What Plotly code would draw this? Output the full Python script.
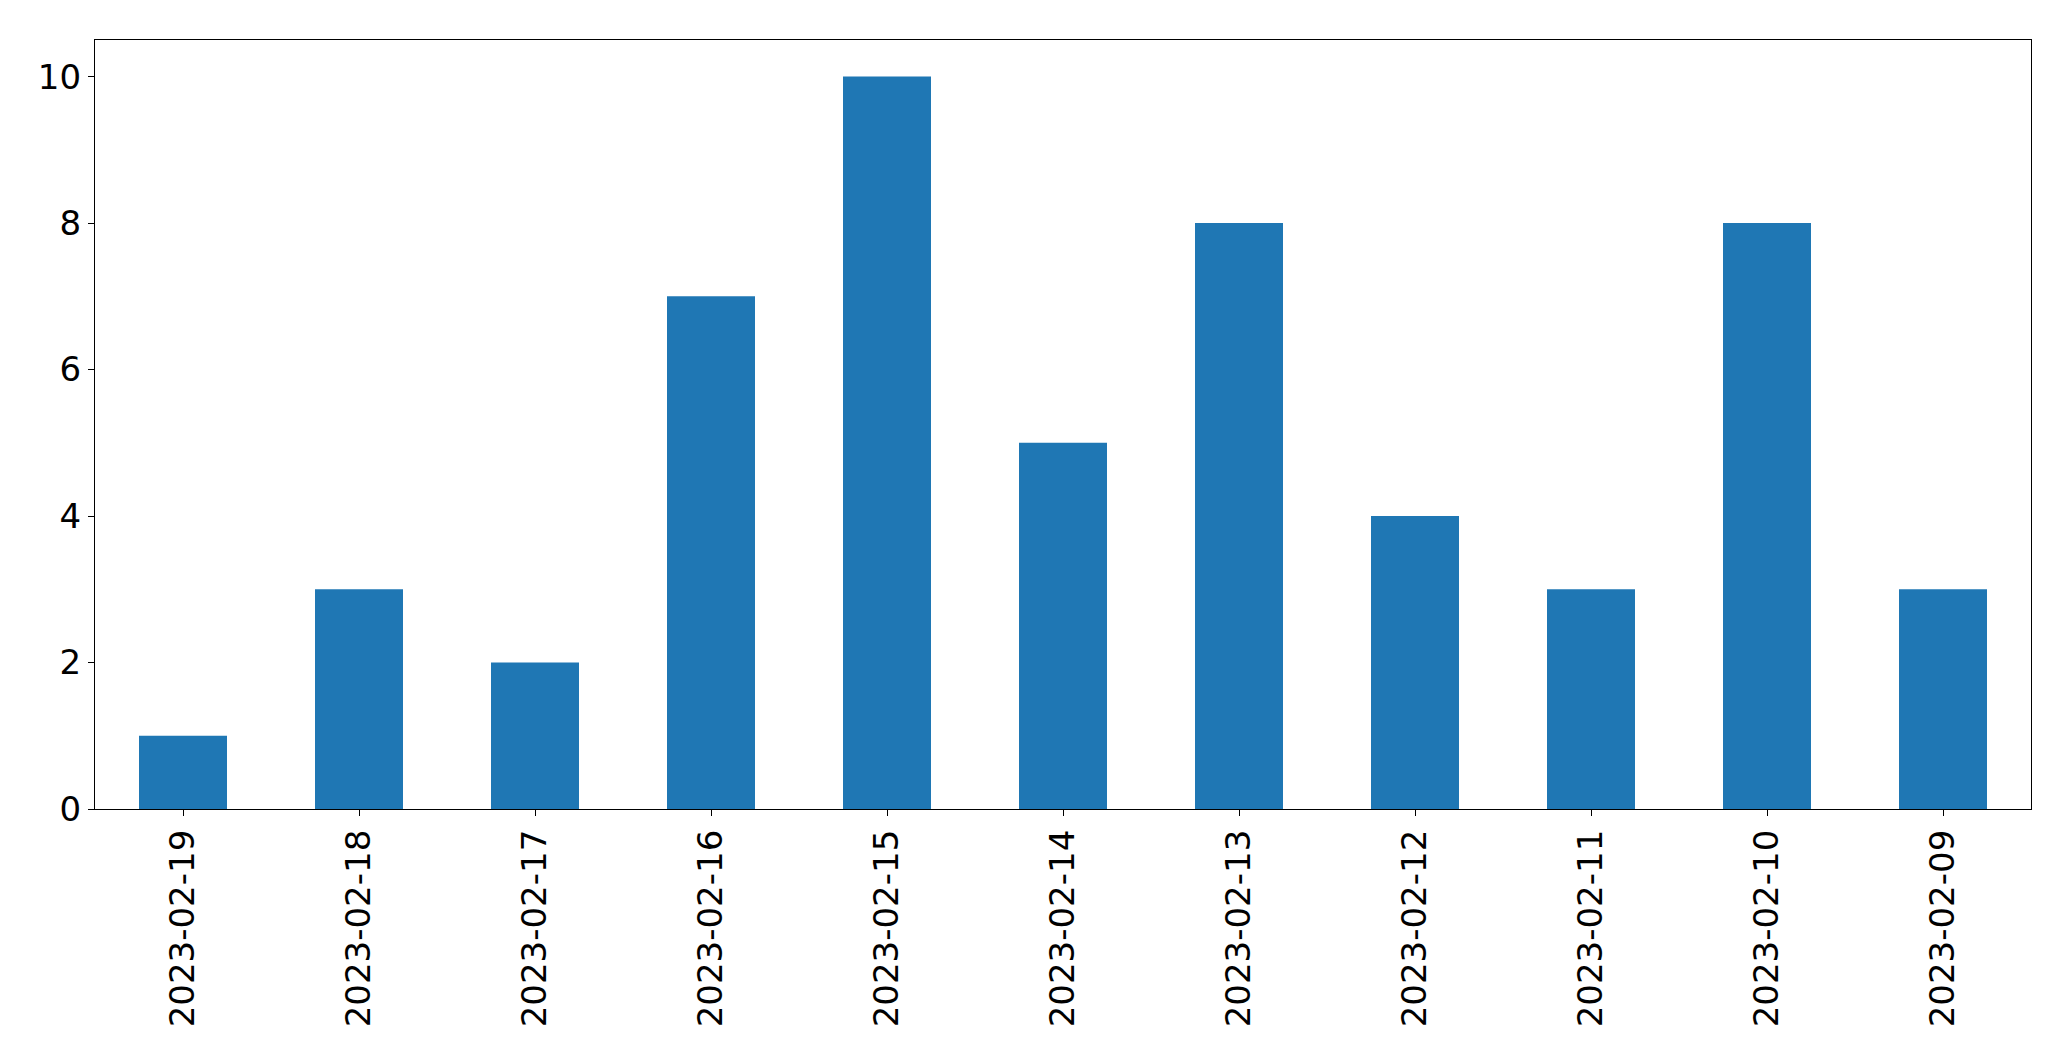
import plotly.graph_objects as go

dates = ["2023-02-19", "2023-02-18", "2023-02-17", "2023-02-16", "2023-02-15",
         "2023-02-14", "2023-02-13", "2023-02-12", "2023-02-11", "2023-02-10",
         "2023-02-09"]
counts = [1, 3, 2, 7, 10, 5, 8, 4, 3, 8, 3]
y_ticks = [0, 2, 4, 6, 8, 10]

fig = go.Figure(go.Bar(x=dates, y=counts, marker=dict(color="#1f77b4", line=dict(width=0)), width=0.5))

font = dict(family="DejaVu Sans", size=34, color="black")
fig.update_layout(
    width=2071, height=1061,
    margin=dict(l=95, r=40, t=40, b=252),
    paper_bgcolor="white", plot_bgcolor="white",
    font=font, showlegend=False,
)
fig.update_xaxes(type="category", range=[-0.5, 10.5], showline=True, linecolor="black", linewidth=1.3,
                 mirror=True, ticks="outside", ticklen=6, tickcolor="black", tickwidth=1.3,
                 tickangle=-90, showgrid=False, tickfont=font)
fig.update_yaxes(range=[0, 10.5], tickvals=y_ticks, showline=True, linecolor="black", linewidth=1.3,
                 mirror=True, ticks="outside", ticklen=6, tickcolor="black", tickwidth=1.3,
                 showgrid=False, zeroline=False, tickfont=font)

fig.write_html("out.html", config={"displayModeBar": False},
               post_script="document.body.style.margin='0';document.body.style.overflow='hidden';")
